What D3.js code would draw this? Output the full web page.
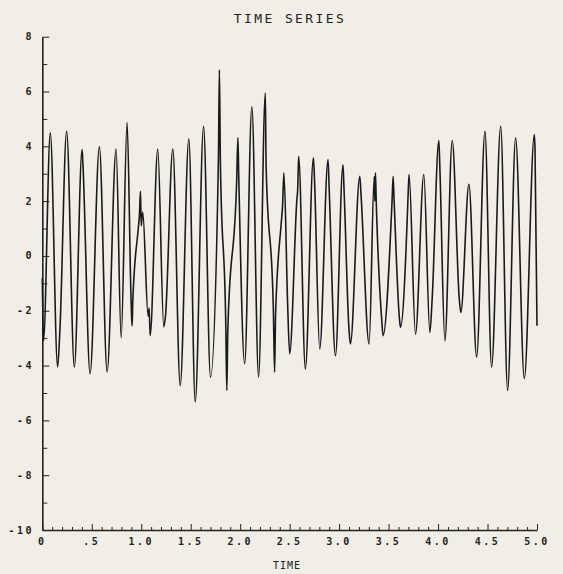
<!DOCTYPE html>
<html>
<head>
<meta charset="utf-8">
<script src="https://cdn.jsdelivr.net/npm/d3@7"></script>
<style>
  html, body { margin: 0; padding: 0; background: #f0eee6; }
  svg { display: block; }
</style>
</head>
<body>
<svg id="chart" width="563" height="574"></svg>
<script>
// ---- data ----
const title = "TIME SERIES";
const xLabel = "TIME";
const xTickValues = [0, 0.5, 1.0, 1.5, 2.0, 2.5, 3.0, 3.5, 4.0, 4.5, 5.0];
const xTickLabels = ["0", ".5", "1.0", "1.5", "2.0", "2.5", "3.0", "3.5", "4.0", "4.5", "5.0"];
const yTickValues = [8, 6, 4, 2, 0, -2, -4, -6, -8, -10];
const yTickLabels = ["8", "6", "4", "2", "0", "-2", "-4", "-6", "-8", "-10"];

const times = [
  0.000, 0.012, 0.081, 0.155, 0.178, 0.246, 0.324, 0.402, 0.410, 0.483,
  0.577, 0.655, 0.746, 0.797, 0.857, 0.895, 0.902, 0.908, 0.915, 0.970,
  0.982, 0.992, 1.000, 1.015, 1.070, 1.080, 1.090, 1.167, 1.228, 1.245,
  1.319, 1.394, 1.481, 1.546, 1.630, 1.700, 1.780, 1.790, 1.800, 1.855,
  1.865, 1.875, 1.965, 1.977, 1.985, 2.045, 2.118, 2.186, 2.254, 2.262,
  2.335, 2.348, 2.358, 2.415, 2.428, 2.442, 2.480, 2.500, 2.572, 2.582,
  2.591, 2.659, 2.740, 2.750, 2.804, 2.888, 2.900, 2.963, 3.039, 3.050,
  3.100, 3.114, 3.209, 3.222, 3.303, 3.355, 3.361, 3.367, 3.375, 3.430,
  3.444, 3.535, 3.546, 3.555, 3.610, 3.620, 3.690, 3.698, 3.707, 3.772,
  3.856, 3.917, 3.940, 4.008, 4.020, 4.069, 4.143, 4.215, 4.230, 4.312,
  4.390, 4.474, 4.541, 4.633, 4.703, 4.784, 4.872, 4.973, 4.980, 5.000
];
const values = [
  -0.8, -3.1, 4.49, -4.05, -2.7, 4.55, -4.05, 3.88, 3.4, -4.3,
  3.98, -4.23, 3.9, -2.99, 4.87, -1.3, -2.2, -2.55, -1.6, 1.0,
  1.5, 2.36, 1.1, 1.6, -2.2, -1.9, -2.91, 3.9, -2.59, -2.2,
  3.9, -4.73, 4.27, -5.33, 4.73, -4.42, 3.5, 6.79, 3.4, -2.6,
  -4.91, -2.7, 2.8, 4.31, 3.0, -3.94, 5.45, -4.42, 5.94, 3.3,
  -1.9, -4.24, -2.1, 1.2, 1.8, 3.03, -1.8, -3.57, 2.0, 2.5,
  3.64, -4.12, 3.58, 2.9, -3.39, 3.52, 2.4, -3.64, 3.33, 2.4,
  -2.7, -3.21, 2.91, 2.2, -3.21, 2.9, 2.0, 3.03, 2.0, -2.3,
  -2.91, 2.0, 2.91, 2.1, -2.3, -2.6, 1.5, 2.3, 2.97, -2.85,
  2.97, -2.79, -1.6, 4.21, 3.0, -3.09, 4.21, -1.6, -2.06, 2.61,
  -3.69, 4.55, -4.06, 4.73, -4.91, 4.31, -4.48, 4.43, 3.9, -2.55
];

const points = times.map((t, i) => ({ t, v: values[i] }));

// ---- layout ----
const svg = d3.select("#chart");
const x0 = 42.3, x1 = 537, yTop = 36.7, yBot = 530;
const x = d3.scaleLinear().domain([0, 5]).range([x0, x1]);
const y = d3.scaleLinear().domain([-10, 8]).range([yBot, yTop]);
const ink = "#222";
const font = "'DejaVu Sans Mono', monospace";

// x axis (ticks up)
const xMinor = d3.range(0, 51).map(i => i / 10);
const xAxis = d3.axisTop(x).tickValues(xMinor)
  .tickSize(3).tickSizeOuter(0).tickFormat("");
const gx = svg.append("g").attr("transform", `translate(0,${yBot})`).call(xAxis);
gx.select(".domain").attr("stroke", ink).attr("stroke-width", 1.6);
gx.selectAll(".tick line").attr("stroke", ink).attr("stroke-width", 1)
  .attr("y2", d => (Math.round(d * 10) % 5 === 0 ? -6 : -3));

// x tick labels
svg.append("g").selectAll("text").data(xTickValues).join("text")
  .attr("x", d => x(d)).attr("y", yBot + 15)
  .attr("text-anchor", "middle")
  .attr("font-family", font).attr("font-size", 10).attr("font-weight", "bold")
  .attr("letter-spacing", 2.5).attr("fill", ink)
  .text((d, i) => xTickLabels[i]);

// y axis (ticks right)
const yAll = d3.range(-10, 9);
const yAxis = d3.axisRight(y).tickValues(yAll)
  .tickSize(5).tickSizeOuter(0).tickFormat("");
const gy = svg.append("g").attr("transform", `translate(${x0},0)`).call(yAxis);
gy.select(".domain").attr("stroke", ink).attr("stroke-width", 1.6);
gy.selectAll(".tick line").attr("stroke", ink).attr("stroke-width", 1)
  .attr("x2", d => (d % 2 === 0 ? 7 : 5));

// y tick labels
svg.append("g").selectAll("text").data(yTickValues).join("text")
  .attr("x", 34).attr("y", d => y(d) + 3.5)
  .attr("text-anchor", "end")
  .attr("font-family", font).attr("font-size", 10).attr("font-weight", "bold")
  .attr("letter-spacing", 2.5).attr("fill", ink)
  .text((d, i) => yTickLabels[i]);

// series
const line = d3.line().x(d => x(d.t)).y(d => y(d.v)).curve(d3.curveMonotoneX);
svg.append("path").datum(points)
  .attr("d", line).attr("fill", "none")
  .attr("stroke", "#1a1a1a").attr("stroke-width", 1.6)
  .attr("stroke-linejoin", "round");

// title & x label
svg.append("text").attr("x", 290).attr("y", 23)
  .attr("text-anchor", "middle")
  .attr("font-family", font).attr("font-size", 13)
  .attr("letter-spacing", 2.4).attr("fill", ink)
  .text(title);
svg.append("text").attr("x", 287).attr("y", 569)
  .attr("text-anchor", "middle")
  .attr("font-family", font).attr("font-size", 10)
  .attr("letter-spacing", 1).attr("fill", ink)
  .text(xLabel);
</script>
</body>
</html>
